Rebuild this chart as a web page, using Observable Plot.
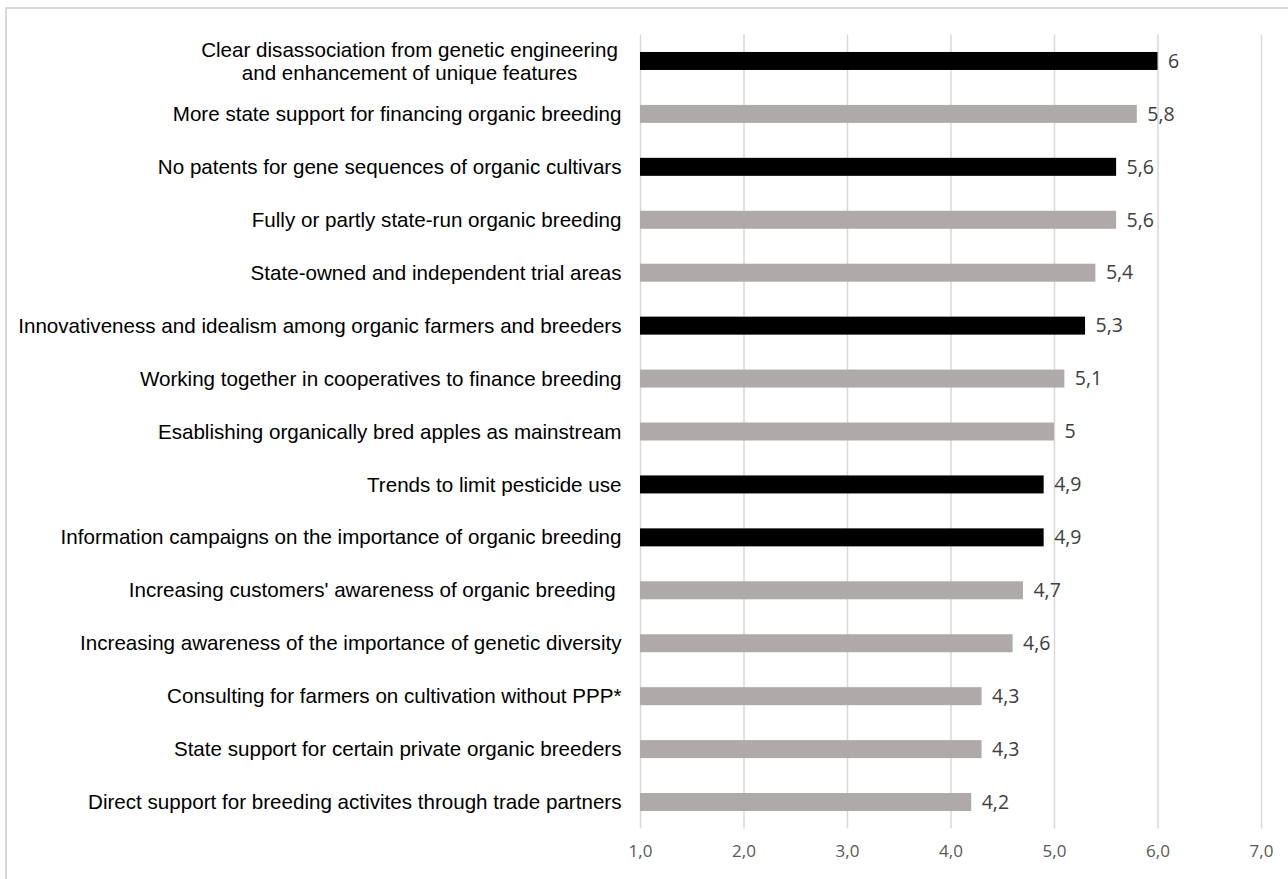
<!DOCTYPE html>
<html>
<head>
<meta charset="utf-8">
<script src="https://cdn.jsdelivr.net/npm/d3@7"></script>
<script src="https://cdn.jsdelivr.net/npm/@observablehq/plot@0.6"></script>
<style>
  html, body { margin: 0; padding: 0; background: #ffffff; }
  #wrap { position: relative; width: 1288px; height: 879px; overflow: hidden; }
  #frame { position: absolute; left: 5px; top: 7px; width: 1400px; height: 1000px;
           border-left: 2px solid #d9d9d9; border-top: 2px solid #d9d9d9; box-sizing: border-box; }
  #chart { position: absolute; left: 0; top: 0; }
</style>
</head>
<body>
<div id="wrap"><div id="frame"></div><div id="chart"></div></div>
<script>
const labels = [
  "Clear disassociation from genetic engineering\nand enhancement of unique features",
  "More state support for financing organic breeding",
  "No patents for gene sequences of organic cultivars",
  "Fully or partly state-run organic breeding",
  "State-owned and independent trial areas",
  "Innovativeness and idealism among organic farmers and breeders",
  "Working together in cooperatives to finance breeding",
  "Esablishing organically bred apples as mainstream",
  "Trends to limit pesticide use",
  "Information campaigns on the importance of organic breeding",
  "Increasing customers' awareness of organic breeding\u00a0",
  "Increasing awareness of the importance of genetic diversity",
  "Consulting for farmers on cultivation without PPP*",
  "State support for certain private organic breeders",
  "Direct support for breeding activites through trade partners"
];
const values = [6, 5.8, 5.6, 5.6, 5.4, 5.3, 5.1, 5, 4.9, 4.9, 4.7, 4.6, 4.3, 4.3, 4.2];
const groups = ["dark","light","dark","light","light","dark","light","light","dark","dark","light","light","light","light","light"];
const xTicks = [1, 2, 3, 4, 5, 6, 7];
const axisMin = 1;

const data = labels.map((label, i) => ({label, value: values[i], group: groups[i]}));
const fmt = v => String(v).replace(".", ",");

const labelFont = "'Liberation Sans', Arial, sans-serif";
const numFont = "'Open Sans', sans-serif";

const chart = Plot.plot({
  width: 1288,
  height: 879,
  marginLeft: 640,
  marginRight: 27,
  marginTop: 34.5,
  marginBottom: 50.5,
  style: {background: "transparent", fontFamily: labelFont},
  x: {domain: [1, 7], ticks: xTicks},
  y: {domain: labels, paddingInner: 0.66, paddingOuter: 0.33, round: false},
  color: {domain: ["dark", "light"], range: ["#000000", "#aeaaaa"]},
  marks: [
    Plot.ruleX(xTicks, {stroke: "#d9d9d9", strokeWidth: 1.5}),
    Plot.barX(data, {x1: axisMin, x2: "value", y: "label", fill: "group"}),
    Plot.text(data, {x: "value", y: "label", text: d => fmt(d.value), textAnchor: "start", dx: 10,
      fontFamily: numFont, fontSize: 19.5, fill: "#404040"}),
    Plot.axisX({ticks: xTicks, tickSize: 0, tickPadding: 16, tickFormat: d => d.toFixed(1).replace(".", ","),
      fontFamily: numFont, fontSize: 17, fill: "#595959", label: null}),
    Plot.axisY({tickSize: 0, tickPadding: 19, tickFormat: (d, i) => i === 0 ? "" : d,
      fontFamily: labelFont, fontSize: 20.6, fill: "#000000", label: null}),
    Plot.text(data.slice(0, 1), {x: axisMin, y: "label", text: "label", textAnchor: "middle", dx: -231,
      lineHeight: 1.12, fontFamily: labelFont, fontSize: 20.6, fill: "#000000"})
  ]
});
document.getElementById("chart").appendChild(chart);
</script>
</body>
</html>
